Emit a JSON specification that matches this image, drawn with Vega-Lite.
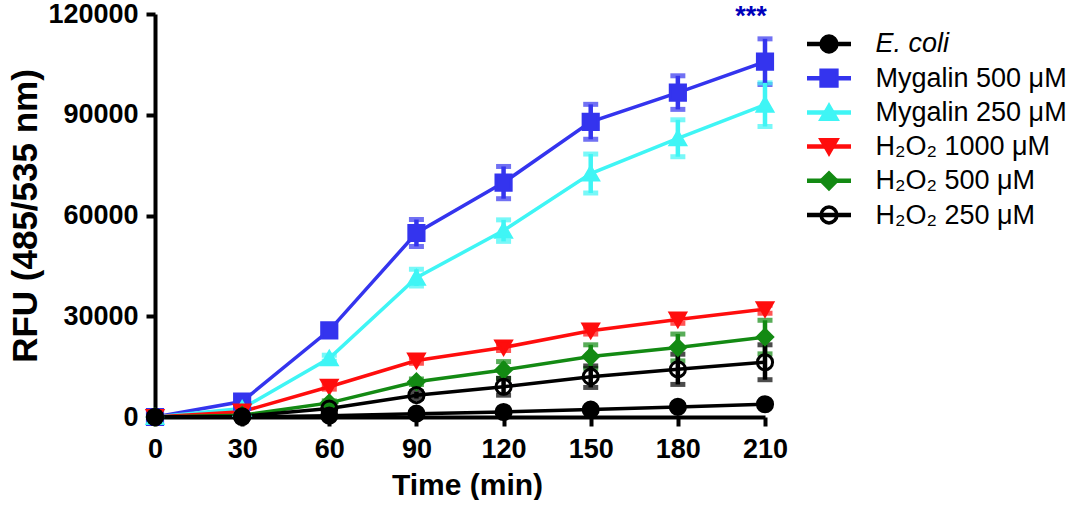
{
  "$schema": "https://vega.github.io/schema/vega-lite/v6.json",
  "autosize": {"type": "pad"},
  "padding": {"left": 8, "top": 0, "right": 0, "bottom": 0},
  "bounds": "flush",
  "spacing": 42,
  "resolve": {"scale": {"x": "independent", "y": "independent"}},
  "datasets": {
    "rfu": [
      {"s": "Mygalin 500 μM", "t": 0, "v": 0, "lo": 0, "hi": 0},
      {"s": "Mygalin 500 μM", "t": 30, "v": 4600, "lo": 3800, "hi": 5400},
      {"s": "Mygalin 500 μM", "t": 60, "v": 25800, "lo": 24600, "hi": 27000},
      {"s": "Mygalin 500 μM", "t": 90, "v": 54800, "lo": 50800, "hi": 58800},
      {"s": "Mygalin 500 μM", "t": 120, "v": 69800, "lo": 65000, "hi": 74600},
      {"s": "Mygalin 500 μM", "t": 150, "v": 87900, "lo": 82700, "hi": 93100},
      {"s": "Mygalin 500 μM", "t": 180, "v": 96600, "lo": 91600, "hi": 101600},
      {"s": "Mygalin 500 μM", "t": 210, "v": 105800, "lo": 99000, "hi": 112600},
      {"s": "Mygalin 250 μM", "t": 0, "v": 0, "lo": 0, "hi": 0},
      {"s": "Mygalin 250 μM", "t": 30, "v": 2500, "lo": 2000, "hi": 3000},
      {"s": "Mygalin 250 μM", "t": 60, "v": 17500, "lo": 16600, "hi": 18400},
      {"s": "Mygalin 250 μM", "t": 90, "v": 41500, "lo": 39000, "hi": 44000},
      {"s": "Mygalin 250 μM", "t": 120, "v": 55500, "lo": 52300, "hi": 58700},
      {"s": "Mygalin 250 μM", "t": 150, "v": 72500, "lo": 66700, "hi": 78300},
      {"s": "Mygalin 250 μM", "t": 180, "v": 83000, "lo": 77500, "hi": 88500},
      {"s": "Mygalin 250 μM", "t": 210, "v": 93000, "lo": 86500, "hi": 99500},
      {"s": "H₂O₂ 1000 μM", "t": 0, "v": 0, "lo": 0, "hi": 0},
      {"s": "H₂O₂ 1000 μM", "t": 30, "v": 1600, "lo": 1200, "hi": 2000},
      {"s": "H₂O₂ 1000 μM", "t": 60, "v": 9000, "lo": 8300, "hi": 9700},
      {"s": "H₂O₂ 1000 μM", "t": 90, "v": 16800, "lo": 16000, "hi": 17600},
      {"s": "H₂O₂ 1000 μM", "t": 120, "v": 20700, "lo": 19800, "hi": 21600},
      {"s": "H₂O₂ 1000 μM", "t": 150, "v": 25700, "lo": 24700, "hi": 26700},
      {"s": "H₂O₂ 1000 μM", "t": 180, "v": 29000, "lo": 27900, "hi": 30100},
      {"s": "H₂O₂ 1000 μM", "t": 210, "v": 32100, "lo": 30900, "hi": 33300},
      {"s": "H₂O₂ 500 μM", "t": 0, "v": 0, "lo": 0, "hi": 0},
      {"s": "H₂O₂ 500 μM", "t": 30, "v": 500, "lo": 300, "hi": 700},
      {"s": "H₂O₂ 500 μM", "t": 60, "v": 4200, "lo": 3600, "hi": 4800},
      {"s": "H₂O₂ 500 μM", "t": 90, "v": 10500, "lo": 9700, "hi": 11300},
      {"s": "H₂O₂ 500 μM", "t": 120, "v": 14000, "lo": 11500, "hi": 16500},
      {"s": "H₂O₂ 500 μM", "t": 150, "v": 18000, "lo": 14500, "hi": 21500},
      {"s": "H₂O₂ 500 μM", "t": 180, "v": 20700, "lo": 16700, "hi": 24700},
      {"s": "H₂O₂ 500 μM", "t": 210, "v": 23800, "lo": 18800, "hi": 28800},
      {"s": "H₂O₂ 250 μM", "t": 0, "v": 0, "lo": 0, "hi": 0},
      {"s": "H₂O₂ 250 μM", "t": 30, "v": 200, "lo": 0, "hi": 400},
      {"s": "H₂O₂ 250 μM", "t": 60, "v": 2500, "lo": 2000, "hi": 3000},
      {"s": "H₂O₂ 250 μM", "t": 90, "v": 6500, "lo": 5500, "hi": 7500},
      {"s": "H₂O₂ 250 μM", "t": 120, "v": 9000, "lo": 6500, "hi": 11500},
      {"s": "H₂O₂ 250 μM", "t": 150, "v": 12000, "lo": 8800, "hi": 15200},
      {"s": "H₂O₂ 250 μM", "t": 180, "v": 14200, "lo": 9700, "hi": 18700},
      {"s": "H₂O₂ 250 μM", "t": 210, "v": 16300, "lo": 11100, "hi": 21500},
      {"s": "E. coli", "t": 0, "v": 0, "lo": 0, "hi": 0},
      {"s": "E. coli", "t": 30, "v": 0, "lo": 0, "hi": 0},
      {"s": "E. coli", "t": 60, "v": 400, "lo": 200, "hi": 600},
      {"s": "E. coli", "t": 90, "v": 1000, "lo": 700, "hi": 1300},
      {"s": "E. coli", "t": 120, "v": 1500, "lo": 1100, "hi": 1900},
      {"s": "E. coli", "t": 150, "v": 2200, "lo": 1700, "hi": 2700},
      {"s": "E. coli", "t": 180, "v": 3000, "lo": 2400, "hi": 3600},
      {"s": "E. coli", "t": 210, "v": 3800, "lo": 3100, "hi": 4500}
    ],
    "marks": [{"t": 210, "v": 120000, "label": "***"}],
    "legend": [
      {"s": "E. coli"},
      {"s": "Mygalin 500 μM"},
      {"s": "Mygalin 250 μM"},
      {"s": "H₂O₂ 1000 μM"},
      {"s": "H₂O₂ 500 μM"},
      {"s": "H₂O₂ 250 μM"}
    ]
  },
  "hconcat": [
    {
      "width": 610,
      "height": 403,
      "encoding": {
        "x": {
          "field": "t",
          "type": "quantitative",
          "title": "Time (min)",
          "scale": {"domain": [0, 210]},
          "axis": {"values": [0, 30, 60, 90, 120, 150, 180, 210], "labelFlush": false, "titlePadding": 8, "titleX": 312}
        },
        "y": {
          "field": "v",
          "type": "quantitative",
          "title": "RFU (485/535 nm)",
          "scale": {"domain": [0, 120000]},
          "axis": {"values": [0, 30000, 60000, 90000, 120000], "format": "d", "labelFlush": false, "titlePadding": 4}
        }
      },
      "layer": [
        {
          "data": {"name": "rfu"},
          "mark": {"type": "line", "strokeWidth": 3.5},
          "encoding": {
            "color": {
              "field": "s",
              "type": "nominal",
              "scale": {
                "domain": ["E. coli", "Mygalin 500 μM", "Mygalin 250 μM", "H₂O₂ 1000 μM", "H₂O₂ 500 μM", "H₂O₂ 250 μM"],
                "range": ["#000000", "#3434ee", "#3ff5f5", "#ff0d0d", "#138a13", "#000000"]
              },
              "legend": null
            }
          }
        },
        {
          "data": {"name": "rfu"},
          "mark": {"type": "errorbar", "thickness": 4.5, "ticks": {"size": 15, "thickness": 5}},
          "encoding": {
            "y": {"field": "lo", "type": "quantitative"},
            "y2": {"field": "hi"},
            "color": {"field": "s", "type": "nominal", "legend": null}
          }
        },
        {
          "data": {"name": "rfu"},
          "mark": {"type": "point", "filled": false, "strokeWidth": 3, "opacity": 1, "size": 230},
          "encoding": {
            "shape": {
              "field": "s",
              "type": "nominal",
              "scale": {
                "domain": ["E. coli", "Mygalin 500 μM", "Mygalin 250 μM", "H₂O₂ 1000 μM", "H₂O₂ 500 μM", "H₂O₂ 250 μM"],
                "range": ["circle", "square", "triangle-up", "triangle-down", "diamond", "circle"]
              },
              "legend": null
            },
            "fill": {
              "field": "s",
              "type": "nominal",
              "scale": {
                "domain": ["E. coli", "Mygalin 500 μM", "Mygalin 250 μM", "H₂O₂ 1000 μM", "H₂O₂ 500 μM", "H₂O₂ 250 μM"],
                "range": ["#000000", "#3434ee", "#3ff5f5", "#ff0d0d", "#138a13", "transparent"]
              },
              "legend": null
            },
            "stroke": {
              "field": "s",
              "type": "nominal",
              "scale": {
                "domain": ["E. coli", "Mygalin 500 μM", "Mygalin 250 μM", "H₂O₂ 1000 μM", "H₂O₂ 500 μM", "H₂O₂ 250 μM"],
                "range": ["#000000", "#3434ee", "#3ff5f5", "#ff0d0d", "#138a13", "#000000"]
              },
              "legend": null
            }
          }
        },
        {
          "data": {"name": "marks"},
          "mark": {"type": "text", "color": "#0000bb", "fontSize": 27, "fontWeight": "bold", "dx": -14, "dy": 3, "baseline": "middle"},
          "encoding": {"text": {"field": "label"}}
        }
      ]
    },
    {
      "width": 44,
      "height": 231,
      "data": {"name": "legend"},
      "encoding": {
        "y": {
          "field": "s",
          "type": "nominal",
          "title": null,
          "scale": {
            "type": "point",
            "padding": 0.877,
            "domain": ["E. coli", "Mygalin 500 μM", "Mygalin 250 μM", "H₂O₂ 1000 μM", "H₂O₂ 500 μM", "H₂O₂ 250 μM"]
          },
          "axis": {
            "orient": "right",
            "domain": false,
            "ticks": false,
            "title": null,
            "labelPadding": 24,
            "labelFontSize": 27,
            "labelFontWeight": "normal",
            "labelLimit": 300,
            "labelFontStyle": {
              "condition": {"test": "datum.value === 'E. coli'", "value": "italic"},
              "value": "normal"
            }
          }
        }
      },
      "layer": [
        {
          "mark": {"type": "rule", "strokeWidth": 4.5},
          "encoding": {
            "color": {"field": "s", "type": "nominal", "legend": null}
          }
        },
        {
          "mark": {"type": "point", "filled": false, "strokeWidth": 3.5, "opacity": 1, "size": 250},
          "encoding": {
            "shape": {"field": "s", "type": "nominal", "legend": null},
            "fill": {"field": "s", "type": "nominal", "legend": null},
            "stroke": {"field": "s", "type": "nominal", "legend": null}
          }
        }
      ]
    }
  ],
  "config": {
    "font": "Liberation Sans",
    "view": {"stroke": null},
    "axis": {
      "grid": false,
      "domainColor": "#000000",
      "domainWidth": 4,
      "tickColor": "#000000",
      "tickWidth": 4,
      "tickSize": 9,
      "labelFont": "Liberation Sans",
      "labelFontSize": 27,
      "labelFontWeight": "bold",
      "labelColor": "#000000",
      "labelPadding": 8,
      "titleFont": "Liberation Sans",
      "titleFontSize": 31,
      "titleFontWeight": "bold",
      "titleColor": "#000000"
    },
    "axisX": {"labelPadding": 10, "titleFontSize": 30},
    "axisY": {"titleFontSize": 35}
  }
}
